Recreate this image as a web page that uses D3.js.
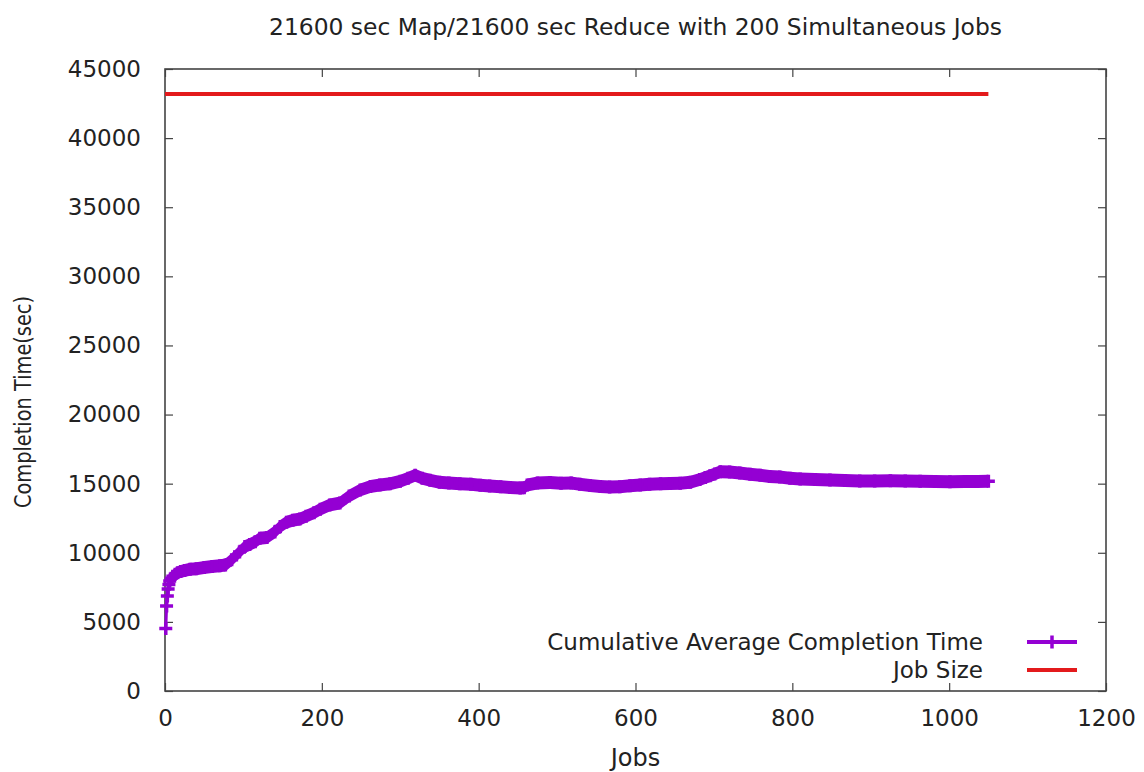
<!DOCTYPE html>
<html>
<head>
<meta charset="utf-8">
<script src="https://cdn.jsdelivr.net/npm/d3@7"></script>
<style>
  html, body { margin: 0; padding: 0; background: #fff; }
  svg text { font-family: "DejaVu Sans", Verdana, sans-serif; fill: #222; }
</style>
</head>
<body>
<svg id="chart" width="1144" height="772"></svg>
<script>
// Job index at each sample and the cumulative average completion time (sec)
const jobs = [1,2,3,4,5,6,8,10,13,16,20,25,32,40,50,60,70,77,85,95,102,108,115,121,130,140,147,155,163,172,180,190,198,210,223,235,249,262,274,287,300,310,319,328,338,350,362,376,390,402,414,428,440,453,458,462,475,491,505,518,529,542,555,567,580,593,606,618,632,644,657,670,682,689,695,701,708,720,733,746,759,771,784,797,810,829,848,867,886,905,925,944,963,982,1001,1020,1036,1050];
const avgTime = [4530,6150,6870,7380,7700,7960,8150,8300,8450,8550,8650,8720,8800,8850,8930,9000,9060,9120,9500,10050,10450,10600,10800,11050,11100,11500,11900,12200,12350,12450,12650,12900,13150,13450,13600,14100,14550,14800,14900,15000,15180,15400,15600,15400,15250,15100,15050,15000,14950,14880,14830,14780,14720,14680,14700,14900,15050,15080,15030,15050,14950,14870,14800,14760,14780,14850,14900,14950,15000,15020,15030,15100,15300,15450,15580,15700,15870,15850,15780,15680,15600,15520,15480,15400,15330,15300,15270,15230,15200,15200,15220,15200,15180,15160,15140,15150,15150,15170];

// Job size reference line
const jobSizeJobs = [0, 1050];
const jobSizeValues = [43200, 43200];

const xTickValues = [0, 200, 400, 600, 800, 1000, 1200];
const yTickValues = [0, 5000, 10000, 15000, 20000, 25000, 30000, 35000, 40000, 45000];

const titleText = "21600 sec Map/21600 sec Reduce with 200 Simultaneous Jobs";
const xLabel = "Jobs";
const yLabel = "Completion Time(sec)";
const seriesNames = ["Cumulative Average Completion Time", "Job Size"];
const colors = { avg: "#9400d3", size: "#e31a1c" };

const margin = { left: 165, right: 38, top: 69, bottom: 81 };
const W = 1144, H = 772;
const svg = d3.select("#chart");

const x = d3.scaleLinear().domain([0, 1200]).range([margin.left, W - margin.right]);
const y = d3.scaleLinear().domain([0, 45000]).range([H - margin.bottom, margin.top]);

const tickFont = 23;
const axisColor = "#444";
const tickLen = 8;

// Axes: labels outside, ticks drawn inward on all four sides
const gx = svg.append("g").attr("transform", `translate(0,${y(0)})`)
  .call(d3.axisBottom(x).tickValues(xTickValues).tickSize(-tickLen).tickPadding(19).tickFormat(d3.format("d")));
const gy = svg.append("g").attr("transform", `translate(${x(0)},0)`)
  .call(d3.axisLeft(y).tickValues(yTickValues).tickSize(-tickLen).tickPadding(24).tickFormat(d3.format("d")));
const gxTop = svg.append("g").attr("transform", `translate(0,${y(45000)})`)
  .call(d3.axisTop(x).tickValues(xTickValues).tickSize(-tickLen).tickFormat(""));
const gyRight = svg.append("g").attr("transform", `translate(${x(1200)},0)`)
  .call(d3.axisRight(y).tickValues(yTickValues).tickSize(-tickLen).tickFormat(""));

[gx, gy, gxTop, gyRight].forEach(g => {
  g.select(".domain").remove();
  g.selectAll(".tick line").attr("stroke", axisColor).attr("stroke-width", 1.2);
  g.selectAll(".tick text").style("font-size", tickFont + "px").attr("fill", "#222");
});

// Plot border
svg.append("rect")
  .attr("x", x(0)).attr("y", y(45000))
  .attr("width", x(1200) - x(0)).attr("height", y(0) - y(45000))
  .attr("fill", "none").attr("stroke", axisColor).attr("stroke-width", 1.6);

// Title and axis labels
svg.append("text").attr("x", (x(0) + x(1200)) / 2).attr("y", 35)
  .attr("text-anchor", "middle").style("font-size", "23.4px").text(titleText);
svg.append("text").attr("x", (x(0) + x(1200)) / 2).attr("y", 766)
  .attr("text-anchor", "middle").style("font-size", "24px").text(xLabel);
svg.append("text").attr("transform", `translate(31,402) rotate(-90)`)
  .attr("text-anchor", "middle").style("font-size", "23px")
  .attr("textLength", 212).attr("lengthAdjust", "spacingAndGlyphs").text(yLabel);

// Series data
const avgData = jobs.map((j, i) => ({ job: j, v: avgTime[i] }));
const sizeData = jobSizeJobs.map((j, i) => ({ job: j, v: jobSizeValues[i] }));

// Job size line
svg.append("path").datum(sizeData)
  .attr("fill", "none").attr("stroke", colors.size).attr("stroke-width", 4)
  .attr("d", d3.line().x(d => x(d.job)).y(d => y(d.v)));

// Cumulative average: dense "+" point markers give a band of constant height
const half = 6.5;
svg.append("path").datum(avgData)
  .attr("fill", colors.avg)
  .attr("d", d3.area().x(d => x(d.job)).y0(d => y(d.v) - half).y1(d => y(d.v) + half));
svg.append("path").datum(avgData)
  .attr("fill", "none").attr("stroke", colors.avg).attr("stroke-width", 3)
  .attr("d", d3.line().x(d => x(d.job)).y(d => y(d.v)));
const plus = `M${-half},0H${half}M0,${-half}V${half}`;
svg.append("g").selectAll("path").data(avgData).join("path")
  .attr("transform", d => `translate(${x(d.job)},${y(d.v)})`)
  .attr("d", plus).attr("fill", "none").attr("stroke", colors.avg).attr("stroke-width", 3.5);

// Legend
const legendRows = [
  { name: seriesNames[0], color: colors.avg, marker: true, yPos: 642 },
  { name: seriesNames[1], color: colors.size, marker: false, yPos: 670 }
];
const lg = svg.append("g");
legendRows.forEach(r => {
  lg.append("text").attr("x", 983).attr("y", r.yPos).attr("dy", "0.35em")
    .attr("text-anchor", "end").style("font-size", "23px").text(r.name);
  lg.append("line").attr("x1", 1027).attr("x2", 1077).attr("y1", r.yPos).attr("y2", r.yPos)
    .attr("stroke", r.color).attr("stroke-width", 4);
  if (r.marker) {
    lg.append("path").attr("transform", `translate(1052,${r.yPos})`)
      .attr("d", plus).attr("fill", "none").attr("stroke", r.color).attr("stroke-width", 3.5);
  }
});
</script>
</body>
</html>
